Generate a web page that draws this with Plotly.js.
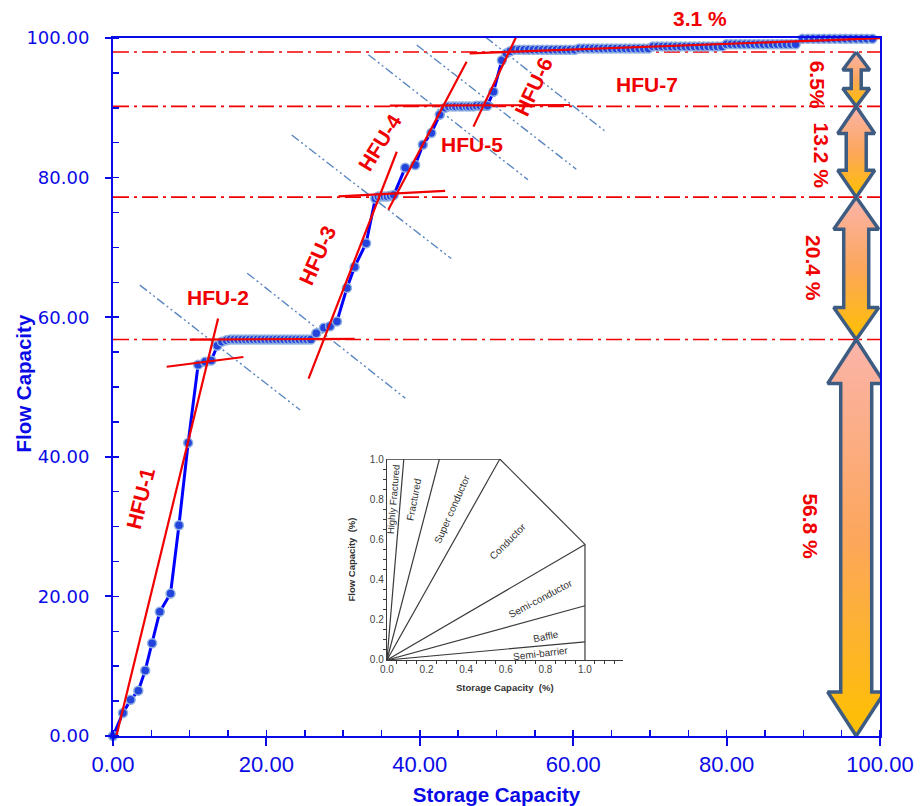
<!DOCTYPE html>
<html><head><meta charset="utf-8">
<script src="https://cdn.plot.ly/plotly-3.0.1.min.js"></script>
<style>html,body{margin:0;padding:0;background:#fff}#chart{width:921px;height:806px}</style>
</head><body><div id="chart"></div>
<script>
// ---------------- DATA ----------------
const storageCap = [
  0.0,1.3,2.3,3.3,4.2,5.1,6.1,7.5,8.6,9.8,11.1,12.0,12.8,13.6,14.2,14.8,
  15.3,15.8,16.3,16.8,17.3,17.8,18.3,18.8,19.3,19.8,20.3,20.8,21.3,21.8,22.3,22.8,23.3,23.8,24.3,24.8,25.3,25.8,
  26.5,27.5,28.3,29.2,30.5,31.5,33.0,34.2,
  34.6,35.0,35.4,35.8,36.2,36.6,
  38.1,39.4,40.4,41.5,42.6,43.3,
  43.8,44.3,44.7,45.2,45.6,46.1,46.5,47.0,47.4,47.9,48.4,48.8,
  49.6,50.7,51.3,51.8,
  52.4,53.0,53.6,54.2,54.8,55.4,56.0,56.6,57.2,57.8,58.4,59.0,59.6,60.2,
  60.8,61.4,62.0,62.6,63.2,63.8,64.4,65.0,65.6,66.2,66.8,67.4,68.0,68.6,69.2,69.8,
  70.4,71.0,71.6,72.2,72.8,73.4,74.0,74.6,75.2,75.8,76.4,77.0,77.6,78.2,78.8,79.4,
  80.0,80.6,81.2,81.8,82.4,83.0,83.6,84.2,84.8,85.4,86.0,86.6,87.2,87.8,88.4,89.0,
  89.9,90.6,91.3,92.0,92.7,93.4,94.1,94.8,95.5,96.2,96.9,97.6,98.3,99.0
];
const flowCap = [
  0.0,3.3,5.2,6.5,9.4,13.3,17.8,20.4,30.2,42.0,53.2,53.6,53.8,55.9,56.5,56.7,
  56.8,56.8,56.8,56.8,56.8,56.8,56.8,56.8,56.8,56.8,56.8,56.8,56.8,56.8,56.8,56.8,56.8,56.8,56.8,56.8,56.8,56.8,
  57.7,58.5,58.7,59.4,64.2,67.2,70.6,77.0,
  77.3,77.3,77.3,77.3,77.4,77.5,
  81.4,81.8,84.7,86.4,89.0,90.0,
  90.2,90.2,90.2,90.2,90.2,90.2,90.2,90.2,90.3,90.3,90.3,90.3,
  92.3,96.8,97.8,98.1,
  98.3,98.3,98.3,98.3,98.3,98.3,98.3,98.3,98.3,98.3,98.3,98.3,98.3,98.3,
  98.5,98.5,98.5,98.5,98.5,98.5,98.5,98.5,98.5,98.5,98.5,98.5,98.5,98.5,98.5,98.5,
  98.8,98.8,98.8,98.8,98.8,98.8,98.8,98.8,98.8,98.8,98.8,98.8,98.8,98.8,98.8,98.8,
  99.1,99.1,99.1,99.1,99.1,99.1,99.1,99.1,99.1,99.1,99.1,99.1,99.1,99.1,99.1,99.1,
  99.9,99.9,99.9,99.9,99.9,99.9,99.9,99.9,99.9,99.9,99.9,99.9,99.9,99.9
];
// HFU boundary levels (flow capacity)
const hfuLevels = [56.8, 77.2, 90.2, 98.0];
// red fitted segments
const fitX0 = [0.0, 7.0, 10.0, 25.5, 29.4, 35.9, 36.1, 47.0, 46.5];
const fitY0 = [-2.0, 52.9, 56.8, 51.2, 77.3, 75.4, 90.3, 87.3, 97.8];
const fitX1 = [13.7, 17.0, 31.5, 37.0, 43.3, 46.1, 59.6, 52.8, 103.3];
const fitY1 = [59.8, 54.3, 56.9, 83.7, 78.1, 96.6, 90.4, 100.7, 100.1];
// blue dash-dot-dot diagonal guides
const diagX0 = [3.5, 17.5, 23.3, 33.3, 39.6, 44.1];
const diagY0 = [64.6, 66.3, 86.1, 97.6, 99.0, 104.0];
const diagX1 = [24.4, 38.1, 44.1, 54.1, 60.4, 64.1];
const diagY1 = [46.7, 48.4, 68.4, 79.7, 81.2, 86.7];
// labels
const hfuNames = ['HFU-1','HFU-2','HFU-3','HFU-4','HFU-5','HFU-6','HFU-7'];
const shareLabels = ['56.8 %','20.4 %','13.2 %','6.5%','3.1 %'];
const arrowLow  = [0.0, 56.8, 77.2, 90.2];
const arrowHigh = [56.8, 77.2, 90.2, 98.0];
// inset classification chart
const insetRayX = [0.085, 0.265, 0.57, 1.0, 1.0, 1.0];
const insetRayY = [1.0, 1.0, 1.0, 0.575, 0.27, 0.09];
const insetClasses = ['Highly Fractured','Fractured','Super conductor','Conductor','Semi-conductor','Baffle','Semi-barrier'];

// ---------------- STYLE / POSITIONS ----------------
const BLUE = '#0a0ae6', RED = '#f00000';
const pxX = 100/767, pxY = 100/698;   // data units per pixel in main plot
const hfuPos = [
  {x:3.6,y:34.0,a:-76},{x:13.7,y:62.8,a:0},{x:26.6,y:68.9,a:-66},{x:34.8,y:85.0,a:-58},
  {x:46.8,y:84.7,a:0},{x:54.8,y:93.1,a:-65},{x:69.6,y:93.4,a:0}
];
const sharePos = [{x:90.9,y:30.0,a:90,r:'y'},{x:91.3,y:67.0,a:90,r:'y'},{x:92.4,y:83.2,a:90,r:'y'},{x:91.8,y:93.3,a:90,r:'y'},{x:76.5,y:1.028,a:0,r:'paper'}];
const arrowX = 96.9;
const arrowHead = [57, 45, 37, 27], arrowShaft = [31, 25, 20, 10], arrowHeadLen = [44, 32, 27, 18];
const insetPos = [
  {x:0.030,y:0.80,a:-85,s:9.5},{x:0.135,y:0.80,a:-79,s:10},{x:0.327,y:0.75,a:-66,s:10},{x:0.608,y:0.592,a:-45,s:10},
  {x:0.776,y:0.308,a:-28,s:10},{x:0.801,y:0.116,a:-12,s:10},{x:0.776,y:0.030,a:-7,s:10}
];

const traces = [];
hfuLevels.forEach(v => traces.push({
  x:[0,100], y:[v,v], mode:'lines', hoverinfo:'skip', showlegend:false,
  line:{color:RED, width:1.6, dash:'16px,5px,3px,5px'}
}));
diagX0.forEach((x0,i) => traces.push({
  x:[x0, diagX1[i]], y:[diagY0[i], diagY1[i]], mode:'lines', hoverinfo:'skip', showlegend:false,
  line:{color:'#5a86c0', width:1.4, dash:'9px,3px,2px,3px,2px,3px'}
}));
traces.push({
  x:storageCap, y:flowCap, mode:'lines+markers', showlegend:false, cliponaxis:false,
  line:{color:'#0000ff', width:3},
  marker:{size:9, color:'#2244dd', line:{color:'#8fb0e0', width:1.5}}
});
fitX0.forEach((x0,i) => traces.push({
  x:[x0, fitX1[i]], y:[fitY0[i], fitY1[i]], mode:'lines', hoverinfo:'skip', showlegend:false,
  line:{color:RED, width:2.2}
}));
arrowLow.forEach((lo,i) => {
  const hi = arrowHigh[i];
  const hw = arrowHead[i]/2*pxX, sw = arrowShaft[i]/2*pxX, hl = arrowHeadLen[i]*pxY;
  const c = arrowX;
  traces.push({
    x:[c, c+hw, c+sw, c+sw, c+hw, c, c-hw, c-sw, c-sw, c-hw, c],
    y:[hi, hi-hl, hi-hl, lo+hl, lo+hl, lo, lo+hl, lo+hl, hi-hl, hi-hl, hi],
    mode:'lines', fill:'toself', hoverinfo:'skip', showlegend:false,
    fillgradient:{type:'vertical', colorscale:[[0,'#ffc000'],[0.5,'#fca65c'],[1,'#fbb4aa']]},
    line:{color:'#3e5c82', width:3.5}
  });
});
const ix = [], iy = [];
insetRayX.forEach((x,i) => { ix.push(0, x, null); iy.push(0, insetRayY[i], null); });
ix.push(0, 0.57, 1.0, 1.0); iy.push(1.0, 1.0, 0.575, 0);
traces.push({x:ix, y:iy, xaxis:'x2', yaxis:'y2', mode:'lines', hoverinfo:'skip', showlegend:false,
  line:{color:'#3a3a3a', width:1.2}});

const ann = [];
const redFont = {family:'Liberation Sans, Arial, sans-serif', size:21, color:RED, weight:'bold'};
const titleFont = {family:'Liberation Sans, Arial, sans-serif', size:20.5, color:BLUE, weight:'bold'};
hfuNames.forEach((t,i) => ann.push({x:hfuPos[i].x, y:hfuPos[i].y, text:t, textangle:hfuPos[i].a, showarrow:false, font:redFont}));
shareLabels.forEach((t,i) => ann.push({x:sharePos[i].x, y:sharePos[i].y, yref:sharePos[i].r, text:t, textangle:sharePos[i].a,
  xanchor:'center', yanchor:'middle', showarrow:false, font:redFont}));
insetClasses.forEach((t,i) => ann.push({x:insetPos[i].x, y:insetPos[i].y, xref:'x2', yref:'y2', text:t,
  textangle:insetPos[i].a, showarrow:false, font:{family:'Liberation Sans, Arial, sans-serif', size:insetPos[i].s, color:'#333'}}));
// y-axis title placed close to the tick labels, as in the original
ann.push({xref:'paper', yref:'paper', x:-0.1173, y:0.505, xanchor:'center', yanchor:'middle',
  text:'Flow Capacity', textangle:-90, showarrow:false, font:titleFont});

const axisFontY = {family:'DejaVu Sans, Verdana, sans-serif', size:18, color:BLUE};
const axisFontX = {family:'Liberation Sans, Arial, sans-serif', size:22, color:BLUE};
const insetTick = {family:'Liberation Sans, Arial, sans-serif', size:10, color:'#444'};
const insetTitle = {family:'Liberation Sans, Arial, sans-serif', size:9.5, color:'#333', weight:'bold'};
const layout = {
  width:921, height:806, margin:{l:113, r:41, t:38, b:70},
  paper_bgcolor:'#fff', plot_bgcolor:'rgba(0,0,0,0)', showlegend:false,
  xaxis:{range:[0,100], dtick:20, tickformat:'.2f', showgrid:false, zeroline:false,
    showline:true, linecolor:BLUE, linewidth:2, mirror:true,
    ticks:'outside', ticklen:8, tickwidth:2, tickcolor:BLUE, tickfont:axisFontX,
    minor:{dtick:5, ticks:'inside', ticklen:6, tickwidth:1.5, tickcolor:BLUE},
    title:{text:'Storage Capacity', standoff:14, font:titleFont}},
  yaxis:{range:[0,100], dtick:20, tickformat:'.2f', showgrid:false, zeroline:false,
    showline:true, linecolor:BLUE, linewidth:2, mirror:true,
    ticks:'outside', ticklen:6, tickwidth:2, tickcolor:BLUE, tickfont:axisFontY, ticklabelstandoff:12,
    minor:{dtick:5, ticks:'inside', ticklen:6, tickwidth:1.5, tickcolor:BLUE}},
  xaxis2:{domain:[0.3572,0.6644], anchor:'y2', range:[0,1.19], dtick:0.2, tickformat:'.1f',
    showgrid:false, zeroline:false, showline:true, linecolor:'#3a3a3a', linewidth:1.2,
    ticks:'', tickfont:insetTick,
    minor:{dtick:0.05, ticks:'outside', ticklen:3, tickcolor:'#3a3a3a'},
    title:{text:'Storage Capacity  (%)', standoff:10, font:insetTitle}},
  yaxis2:{domain:[0.1089,0.3968], anchor:'x2', range:[0,1.0], dtick:0.2, tickformat:'.1f',
    showgrid:false, zeroline:false, showline:true, linecolor:'#3a3a3a', linewidth:1.2,
    ticks:'', tickfont:insetTick,
    minor:{dtick:0.05, ticks:'outside', ticklen:3, tickcolor:'#3a3a3a'},
    title:{text:'Flow Capacity  (%)', standoff:12, font:insetTitle}},
  annotations:ann
};
Plotly.newPlot('chart', traces, layout, {staticPlot:true});
</script></body></html>
